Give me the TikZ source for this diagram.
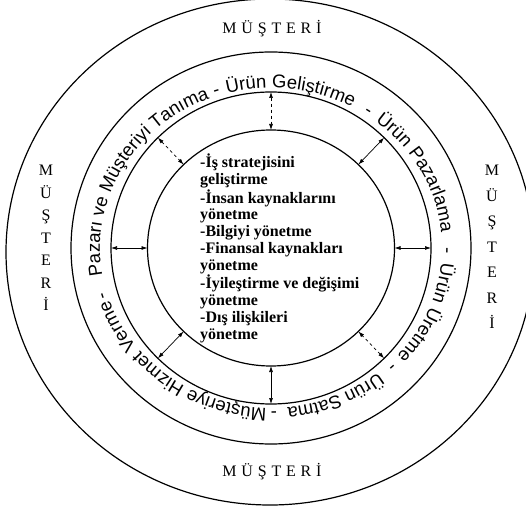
\documentclass[tikz,border=0pt]{standalone}
\usepackage{fontspec}
\setmainfont{Liberation Serif}
\newfontfamily\ringfont{Liberation Sans}
\newcommand\ringtext{\ringfont\fontsize{18.5}{18.5}\selectfont}
\usetikzlibrary{decorations.text,arrows.meta}
\tikzset{
  ring/.style={draw, line width=1.2pt},
  link/.style={<->, >={Latex[length=6pt,width=4pt]}, line width=0.7pt},
  side/.style={font=\fontsize{16}{#1}\selectfont, align=center, inner sep=0pt},
  client/.style={font=\fontsize{16}{16}\selectfont\addfontfeature{LetterSpace=30}},
}
\begin{document}
\begin{tikzpicture}[x=1pt,y=1pt]
\useasboundingbox (0,0) rectangle (526,506);
\coordinate (C) at (271,258);
\draw[ring] (270,254) ellipse [x radius=264, y radius=253];
\draw[ring] (C) ellipse [x radius=200, y radius=196];
\draw[ring] (C) ellipse [x radius=160, y radius=156];
\draw[ring] (C) ellipse [x radius=123.5, y radius=118];
% arrows between the two inner rings
\foreach \a in {0,45,...,315} {
  \coordinate (m\a) at ([shift={(\a:160 and 156)}]C);
  \coordinate (k\a) at ([shift={(\a:123.5 and 118)}]C);
}
\foreach \a in {0,45,180,225,270} \draw[link] (m\a) -- (k\a);
\foreach \a in {90,135,315} \draw[link, dashed] (m\a) -- (k\a);
% text round the ring
\foreach \a/\lbl in {151/{Pazarı ve Müşteriyi Tanıma}, 83/{Ürün Geliştirme}, 28/{Ürün Pazarlama},
    -23/{Ürün Üretme}, -67/{Ürün Satma}, -127/{Müşteriye Hizmet Verme},
    196/-, 109/-, 55/-, -1/-, -45/-, -89/-}
  \path[decorate, decoration={text along path, text align=center,
      text/.expanded={|\noexpand\ringtext|\lbl}}]
    ([shift={(\a+60:171 and 160)}]C) arc[start angle=\a+60, end angle=\a-60, x radius=171, y radius=160];
\node[client] (ctop) at (272,477) {MÜŞTERİ};
\node[client] (cbot) at (272,34) {MÜŞTERİ};
\node[side=22.5pt] (cleft) at (46,268) {M\\Ü\\Ş\\T\\E\\R\\İ};
\node[side=25.5pt] (cright) at (492,259) {M\\Ü\\Ş\\T\\E\\R\\İ};
\node[anchor=north west, inner sep=0pt, align=left, font=\bfseries\fontsize{16}{16.9}\selectfont] (tasks) at (200,352)
  {-İş stratejisini\\geliştirme\\-İnsan kaynaklarını\\yönetme\\-Bilgiyi yönetme\\-Finansal kaynakları\\yönetme\\-İyileştirme ve değişimi\\yönetme\\-Dış ilişkileri\\yönetme};
\end{tikzpicture}
\end{document}
